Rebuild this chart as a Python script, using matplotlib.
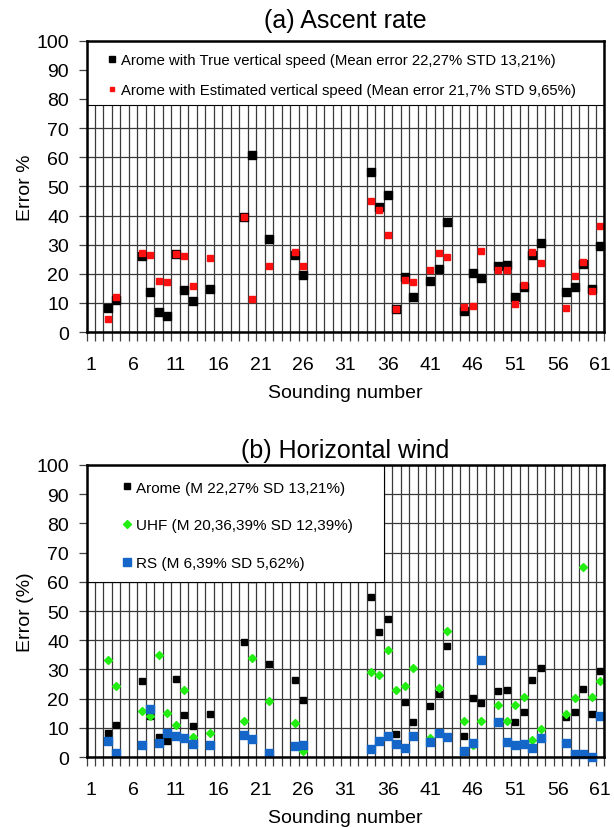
import numpy as np
import matplotlib
matplotlib.use("Agg")
import matplotlib.pyplot as plt
from matplotlib.patches import Rectangle

plt.rcParams['font.family'] = ['Liberation Sans', 'DejaVu Sans']

# sounding numbers that have data
soundings = [3, 4, 7, 8, 9, 10, 11, 12, 13, 15, 19, 20, 22, 25, 26,
             34, 35, 36, 37, 38, 39, 41, 42, 43, 45, 46, 47,
             49, 50, 51, 52, 53, 54, 57, 58, 59, 60, 61]

# Arome error (true vertical speed), same series in both panels
arome = [8.2, 11.0, 26.0, 13.9, 7.0, 5.4, 26.8, 14.4, 10.5, 14.7, 39.5, 60.9, 32.0, 26.5, 19.7,
         54.9, 42.8, 47.1, 8.0, 18.8, 11.9, 17.6, 21.7, 37.9, 7.3, 20.3, 18.4,
         22.7, 23.1, 12.1, 15.5, 26.3, 30.6, 13.7, 15.4, 23.3, 14.9, 29.4]

# Arome error with estimated vertical speed
arome_est = [4.3, 11.9, 27.1, 26.5, 17.6, 17.3, 26.8, 26.2, 15.7, 25.4, 39.5, 11.3, 22.7, 27.6, 22.5,
             45.1, 41.9, 33.4, 8.0, 18.0, 17.3, 21.3, 27.0, 25.7, 8.7, 9.0, 27.8,
             21.4, 21.4, 9.6, 16.2, 27.3, 23.7, 8.4, 19.1, 24.0, 14.1, 36.5]

# horizontal wind errors
uhf = [33.3, 24.2, 15.8, 14.2, 34.9, 15.1, 11.0, 23.1, 6.7, 8.2, 12.3, 33.9, 19.3, 11.8, 2.2,
       29.0, 28.2, 36.6, 22.8, 24.4, 30.6, 6.5, 23.7, 43.3, 12.3, 4.1, 12.3,
       17.9, 12.4, 17.8, 20.7, 5.8, 9.7, 14.7, 20.3, 65.2, 20.7, 26.0]
rs = [5.6, 1.4, 4.2, 16.4, 4.8, 8.2, 7.3, 6.4, 4.6, 4.1, 7.7, 6.2, 1.4, 3.8, 4.0,
      2.9, 5.6, 7.3, 4.6, 3.2, 7.3, 5.3, 8.4, 7.0, 2.1, 4.8, 33.3,
      12.0, 5.3, 4.1, 4.6, 3.2, 6.4, 4.8, 1.0, 1.0, 0.0, 14.1]

n_sound = 61
x_labels = list(range(1, 62, 5))

lab_true = "Arome with True vertical speed (Mean error 22,27% STD 13,21%)"
lab_est = "Arome with Estimated vertical speed (Mean error 21,7% STD 9,65%)"
lab_arome = "Arome (M 22,27% SD 13,21%)"
lab_uhf = "UHF (M 20,36,39% SD 12,39%)"
lab_rs = "RS (M 6,39% SD 5,62%)"


def style_axes(ax, title, ylabel, title_pad):
    ax.set_xlim(0.5, n_sound + 0.5)
    ax.set_ylim(0, 100)
    ax.set_xticks(x_labels)
    ax.set_xticks(np.arange(0.5, n_sound + 1, 1), minor=True)
    ax.set_yticks(range(0, 101, 10))
    ax.tick_params(axis='x', which='major', length=0, pad=17, labelsize=14)
    ax.tick_params(axis='x', which='minor', length=6.5, width=0.9, color='#404040', direction='out')
    ax.tick_params(axis='y', which='major', length=5.5, width=0.9, color='#404040', pad=7, labelsize=14)
    ax.grid(which='minor', axis='x', color='#3a3a3a', lw=0.9)
    ax.grid(which='major', axis='y', color='#3a3a3a', lw=0.9)
    ax.set_axisbelow(True)
    for sp in ax.spines.values():
        sp.set_linewidth(1.8)
        sp.set_zorder(10)
    ax.set_title(title, fontsize=18, pad=title_pad)
    ax.set_ylabel(ylabel, fontsize=14, labelpad=2)
    ax.set_xlabel("Sounding number", fontsize=14, labelpad=8)


fig = plt.figure(figsize=(6.14, 8.28), dpi=100)
ax1 = fig.add_axes([0.1409, 0.5978, 0.8436, 0.3518])
ax2 = fig.add_axes([0.1409, 0.0845, 0.8436, 0.3527])

# (a) Ascent rate
style_axes(ax1, "(a) Ascent rate", "Error %", 10)
ax1.plot(soundings, arome, ls='none', marker='s', ms=5.8, color='black', zorder=3,
         clip_on=False, label=lab_true)
ax1.plot(soundings, arome_est, ls='none', marker='s', ms=4.0, color='#ff1010', mec='#ff1010',
         zorder=4, clip_on=False, label=lab_est)
ax1.add_patch(Rectangle((0.5, 78), n_sound, 22, facecolor='white', edgecolor='black',
                        lw=0.8, zorder=6))
leg1 = ax1.legend(loc='upper left', bbox_to_anchor=(0.04, 0.958), frameon=False, fontsize=10.7,
                  handlelength=0.6, handletextpad=0.35, labelspacing=1.1, borderpad=0,
                  borderaxespad=0, markerscale=0.85)
leg1.set_zorder(7)

# (b) Horizontal wind
style_axes(ax2, "(b) Horizontal wind", "Error (%)", 6)
ax2.plot(soundings, arome, ls='none', marker='s', ms=5.0, color='black', zorder=3,
         clip_on=False, label=lab_arome)
ax2.plot(soundings, uhf, ls='none', marker='D', ms=4.3, color='#22ee11', zorder=4,
         clip_on=False, label=lab_uhf)
ax2.plot(soundings, rs, ls='none', marker='s', ms=5.8, color='#1467c8', zorder=5,
         clip_on=False, label=lab_rs)
ax2.add_patch(Rectangle((0.5, 60), 35, 40, facecolor='white', edgecolor='black',
                        lw=0.8, zorder=6))
leg2 = ax2.legend(loc='upper left', bbox_to_anchor=(0.0686, 0.946), frameon=False, fontsize=11,
                  handlelength=0.6, handletextpad=0.3, labelspacing=1.55, borderpad=0,
                  borderaxespad=0, markerscale=0.9)
leg2.set_zorder(7)

fig.savefig("out.png", dpi=100)
